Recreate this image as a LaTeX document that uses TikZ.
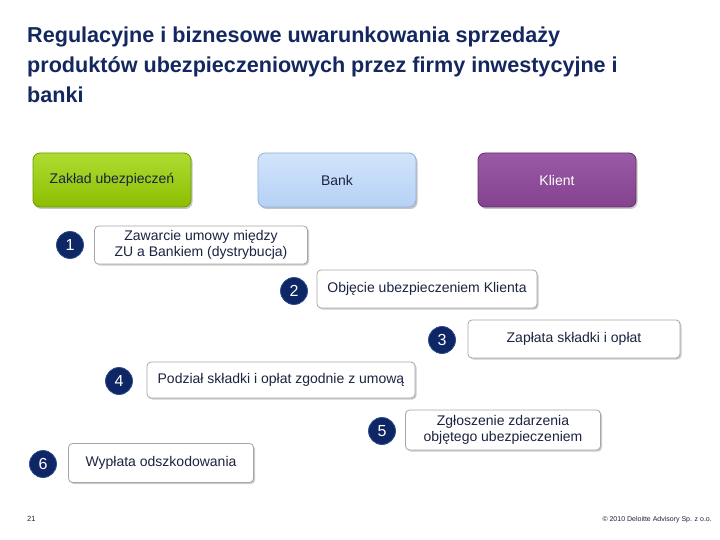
\documentclass[tikz,border=0pt]{standalone}
\usepackage{fontspec}
\setmainfont{Liberation Sans}
\usetikzlibrary{shadows}

\definecolor{navy}{HTML}{14285F}
\definecolor{ink}{HTML}{1C2340}
\definecolor{zutop}{HTML}{AEDC32}
\definecolor{zubot}{HTML}{8DBE00}
\definecolor{zuline}{HTML}{6E9A00}
\definecolor{banktop}{HTML}{D2E4FB}
\definecolor{bankbot}{HTML}{B5D1F5}
\definecolor{bankline}{HTML}{8FAFD8}
\definecolor{kltop}{HTML}{9A5AA6}
\definecolor{klbot}{HTML}{84428F}
\definecolor{klline}{HTML}{62306C}
\definecolor{ball}{HTML}{0E2663}
\definecolor{ballrim}{HTML}{2E4C92}

\begin{document}
\begin{tikzpicture}[x=1pt, y=-1pt, every node/.style={font=\fontsize{14}{16}\selectfont, text=ink},
	party/.style={draw, rounded corners=7pt, line width=0.8pt, minimum width=158pt, minimum height=54pt, inner sep=0pt, drop shadow={shadow xshift=1.5pt, shadow yshift=-2pt, fill=black!45}},
	stepbox/.style={draw=black!35, fill=white, rounded corners=4pt, line width=0.8pt, minimum height=38pt, inner sep=0pt, align=center, drop shadow={shadow xshift=1.5pt, shadow yshift=-1.5pt, fill=black!40}},
	num/.style={circle, fill=ball, draw=ballrim, line width=0.8pt, minimum size=27pt, inner sep=0pt, text=white, font=\fontsize{16}{16}\selectfont}]
	\useasboundingbox (0,0) rectangle (720,540);
	\node[anchor=north west, inner sep=0pt, align=left, text=navy, font=\fontsize{21.6}{30}\selectfont\bfseries] (title) at (27,27) {Regulacyjne i biznesowe uwarunkowania sprzedaży\\produktów ubezpieczeniowych przez firmy inwestycyjne i\\banki};
	\node[party, top color=zutop, bottom color=zubot, draw=zuline] (zu) at (112,180) {Zakład ubezpieczeń};
	\node[party, top color=banktop, bottom color=bankbot, draw=bankline] (bank) at (337,180) {Bank};
	\node[party, top color=kltop, bottom color=klbot, draw=klline, text=white] (klient) at (557,180) {Klient};
	\node[stepbox, minimum width=213pt] (s1) at (201,245) {Zawarcie umowy między\\ZU a Bankiem (dystrybucja)};
	\node[stepbox, minimum width=220pt] (s2) at (427,289) {Objęcie ubezpieczeniem Klienta};
	\node[stepbox, minimum width=212pt] (s3) at (574,339) {Zapłata składki i opłat};
	\node[stepbox, minimum width=268pt, minimum height=36pt] (s4) at (281,380) {Podział składki i opłat zgodnie z umową};
	\node[stepbox, minimum width=195pt, minimum height=40pt] (s5) at (503,430) {Zgłoszenie zdarzenia\\objętego ubezpieczeniem};
	\node[stepbox, minimum width=185pt, minimum height=39pt] (s6) at (161,463) {Wypłata odszkodowania};
	\node[num] (n1) at (70,245) {1};
	\node[num] (n2) at (294,291) {2};
	\node[num] (n3) at (442,340) {3};
	\node[num] (n4) at (119,381) {4};
	\node[num] (n5) at (382,431) {5};
	\node[num] (n6) at (43,464) {6};
	\node[anchor=base west, inner sep=0pt, font=\fontsize{7.5}{8}\selectfont] (page) at (27,521) {21};
	\node[anchor=base east, inner sep=0pt, font=\fontsize{7}{8}\selectfont] (copy) at (712,521) {© 2010 Deloitte Advisory Sp. z o.o.};
\end{tikzpicture}
\end{document}
